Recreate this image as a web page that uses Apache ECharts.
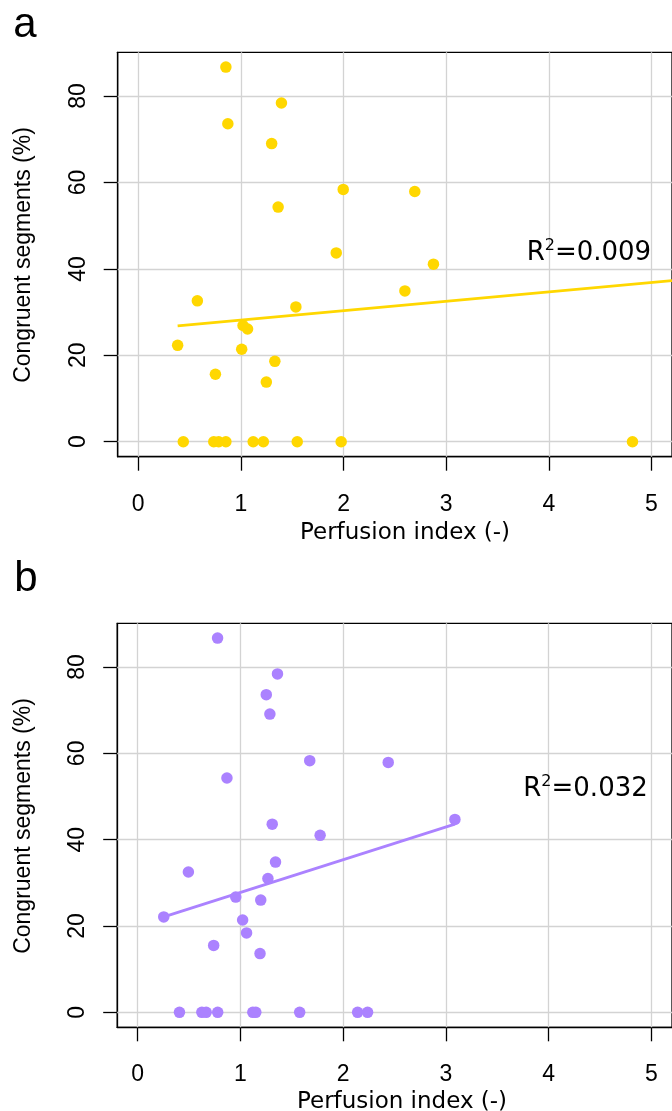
<!DOCTYPE html>
<html><head><meta charset="utf-8">
<script src="https://cdn.jsdelivr.net/npm/echarts@6/dist/echarts.min.js"></script>
<style>html,body{margin:0;padding:0;background:#fff}#c{width:672px;height:1111px}</style>
</head><body><div id="c"></div>
<script>
// ---- data ----
const xTicks = [0, 1, 2, 3, 4, 5];
const yTicks = [0, 20, 40, 60, 80];

// panel a: perfusion index vs congruent segments
const piA   = [0.854, 1.395, 0.873, 1.300, 1.997, 2.694, 1.363, 1.929, 2.876, 2.598, 0.576, 1.536, 1.021, 1.065, 0.384, 1.008, 1.331, 0.752, 1.248,
               0.439, 0.736, 0.784, 0.854, 1.120, 1.219, 1.549, 1.977, 4.815];
const congA = [86.7, 78.4, 73.6, 69.0, 58.4, 57.9, 54.3, 43.7, 41.1, 34.9, 32.6, 31.2, 26.9, 26.1, 22.3, 21.4, 18.6, 15.6, 13.8,
               0, 0, 0, 0, 0, 0, 0, 0, 0];
const fitA  = [[0.384, 26.8], [5.2, 37.3]];
const r2A = '0.009';

// panel b
const piB   = [0.777, 1.360, 1.251, 1.286, 1.674, 2.438, 0.868, 1.309, 1.775, 3.087, 1.341, 0.493, 1.267, 0.954, 1.197, 0.253, 1.021, 1.059, 0.739, 1.190,
               0.406, 0.624, 0.666, 0.778, 1.120, 1.149, 1.576, 2.140, 2.237];
const congB = [86.7, 78.4, 73.6, 69.1, 58.3, 57.9, 54.3, 43.6, 41.0, 44.7, 34.8, 32.5, 31.0, 26.7, 26.0, 22.1, 21.4, 18.4, 15.5, 13.6,
               0, 0, 0, 0, 0, 0, 0, 0, 0];
const fitB  = [[0.253, 22.1], [3.087, 43.6]];
const r2B = '0.032';

const xTitle = 'Perfusion index (-)';
const yTitle = 'Congruent segments (%)';
const colA = '#FFD700', colB = '#AB82FF';

// ---- chart ----
const chart = echarts.init(document.getElementById('c'), null, {renderer: 'canvas'});
const tickFont = '"Liberation Sans", Arial, sans-serif';
const titleFont = '"DejaVu Sans", Verdana, sans-serif';

function xAx(gi) {
  return {
    type: 'value', gridIndex: gi, min: -0.2, max: 5.2,
    axisLine: {show: true, onZero: false, lineStyle: {color: '#000', width: 1.3}},
    axisTick: {show: true, customValues: xTicks, length: 14, inside: false, lineStyle: {color: '#000', width: 1.3}},
    axisLabel: {show: true, customValues: xTicks, margin: 36, fontSize: 23, fontFamily: tickFont, color: '#000'},
    splitLine: {show: false}
  };
}
function yAx(gi) {
  return {
    type: 'value', gridIndex: gi, min: -3.47, max: 90.13,
    axisLine: {show: true, onZero: false, lineStyle: {color: '#000', width: 1.3}},
    axisTick: {show: true, customValues: yTicks, length: 14, inside: false, lineStyle: {color: '#000', width: 1.3}},
    axisLabel: {show: true, customValues: yTicks, margin: 28, rotate: 90, fontSize: 23, fontFamily: tickFont, color: '#000'},
    splitLine: {show: false}
  };
}
function gridLines(gi) {
  return {
    type: 'line', xAxisIndex: gi, yAxisIndex: gi, data: [], silent: true, z: 1,
    markLine: {
      silent: true, symbol: 'none', z: 1, animation: false,
      label: {show: false},
      lineStyle: {color: '#D3D3D3', type: 'solid', width: 1.3},
      data: xTicks.map(v => ({xAxis: v})).concat(yTicks.map(v => ({yAxis: v})))
    }
  };
}
function pts(xs, ys) { return xs.map((x, i) => [x, ys[i]]); }

function r2Text(x, y, val) {
  return {
    type: 'text', x: x, y: y, z: 20,
    style: {
      text: '{r|R}{s|2}{r|=' + val + '}',
      rich: {
        r: {fontSize: 26, fontFamily: titleFont, fill: '#000', color: '#000'},
        s: {fontSize: 16, fontFamily: titleFont, fill: '#000', color: '#000', padding: [0, 0, 14, 0]}
      },
      align: 'left', textAlign: 'left', verticalAlign: 'bottom', textVerticalAlign: 'bottom'
    }
  };
}
function txt(x, y, s, font, size, rot) {
  return {
    type: 'text', x: x, y: y, rotation: rot || 0, z: 20,
    style: {text: s, fontSize: size, fontFamily: font, fill: '#000',
            align: 'center', textAlign: 'center', verticalAlign: 'middle', textVerticalAlign: 'middle'}
  };
}

chart.setOption({
  animation: false,
  backgroundColor: '#fff',
  grid: [
    {left: 117.7, top: 52.3, width: 562.7, height: 404.4, show: true, borderColor: '#000', borderWidth: 1.3, backgroundColor: 'transparent', containLabel: false},
    {left: 117.2, top: 623.3, width: 563, height: 404, show: true, borderColor: '#000', borderWidth: 1.3, backgroundColor: 'transparent', containLabel: false}
  ],
  xAxis: [xAx(0), xAx(1)],
  yAxis: [yAx(0), yAx(1)],
  series: [
    gridLines(0), gridLines(1),
    {type: 'line', xAxisIndex: 0, yAxisIndex: 0, data: fitA, symbol: 'none', z: 5,
     lineStyle: {color: colA, width: 2.8}, clip: true},
    {type: 'line', xAxisIndex: 1, yAxisIndex: 1, data: fitB, symbol: 'none', z: 5,
     lineStyle: {color: colB, width: 2.8}, clip: true},
    {type: 'scatter', xAxisIndex: 0, yAxisIndex: 0, data: pts(piA, congA), symbol: 'circle', symbolSize: 11.5, z: 10,
     itemStyle: {color: colA, opacity: 1}},
    {type: 'scatter', xAxisIndex: 1, yAxisIndex: 1, data: pts(piB, congB), symbol: 'circle', symbolSize: 11.5, z: 10,
     itemStyle: {color: colB, opacity: 1}}
  ],
  graphic: [
    txt(25, 25, 'a', tickFont, 42),
    txt(26, 579, 'b', tickFont, 42),
    txt(405, 533, xTitle, titleFont, 23),
    txt(402, 1102, xTitle, titleFont, 23),
    txt(24, 255, yTitle, tickFont, 23, Math.PI / 2),
    txt(24, 826, yTitle, tickFont, 23, Math.PI / 2),
    r2Text(526.7, 268, r2A),
    r2Text(523.3, 804, r2B)
  ]
});
</script>
</body></html>
